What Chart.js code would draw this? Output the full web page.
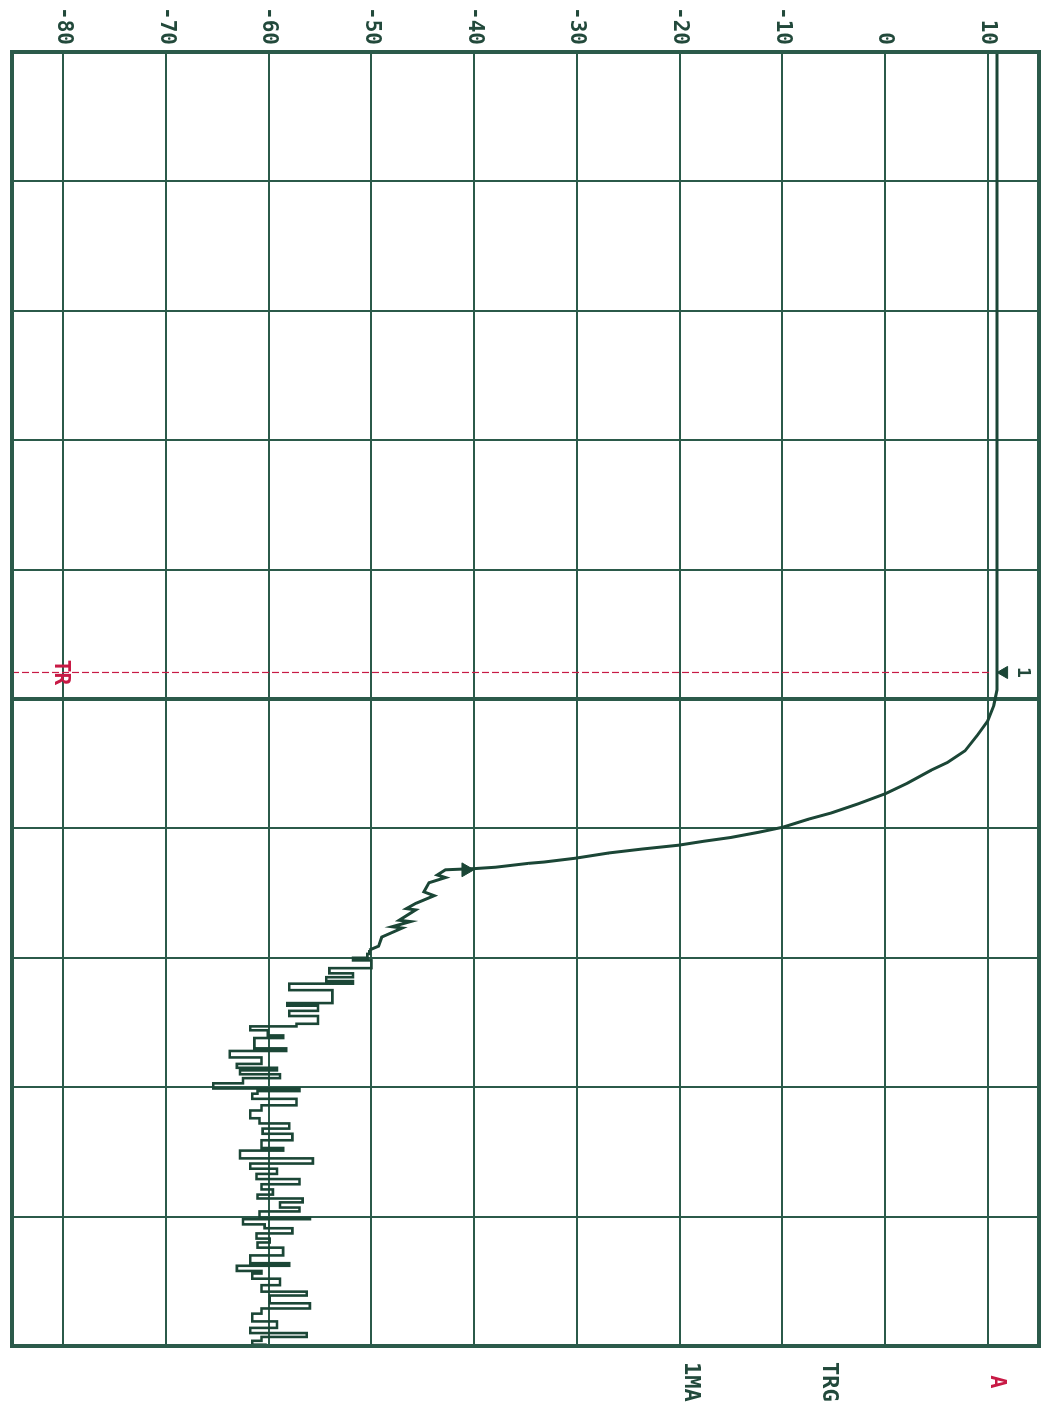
<!DOCTYPE html>
<html>
<head>
<meta charset="utf-8">
<script src="https://cdn.jsdelivr.net/npm/chart.js@4.4.1/dist/chart.umd.min.js"></script>
<style>
  html, body { margin: 0; padding: 0; background: #ffffff; }
  body { width: 1048px; height: 1416px; overflow: hidden; position: relative; }
  /* plotter sheet is drawn landscape, then turned a quarter clockwise */
  #plot { position: absolute; left: 0; top: 0; transform-origin: 0 0; transform: translateX(1048px) rotate(90deg); }
</style>
</head>
<body>
<canvas id="plot" width="1416" height="1048"></canvas>
<script>
// time in screen divisions (0..10), level in dB
const curveTime  = [0, 4.93, 5.05, 5.17, 5.28, 5.40, 5.49, 5.55, 5.65, 5.73, 5.81, 5.88, 5.93, 5.99, 6.03, 6.07, 6.10, 6.13, 6.16, 6.19, 6.23, 6.26, 6.27, 6.30, 6.31, 6.32, 6.36, 6.38, 6.42, 6.49, 6.52, 6.58, 6.62, 6.63, 6.71, 6.72, 6.76, 6.77, 6.84, 6.91, 6.94];
const curveLevel = [10.9, 10.9, 10.6, 10.0, 9.0, 7.8, 6.1, 4.5, 2.2, 0.1, -2.6, -5.2, -7.5, -9.9, -12.3, -15.0, -17.7, -20.1, -23.7, -26.9, -30.1, -33.2, -34.7, -37.9, -39.8, -42.8, -43.6, -42.8, -44.4, -44.9, -43.9, -45.7, -46.6, -45.7, -47.3, -46.2, -48.0, -47.0, -49.0, -49.3, -50.2];

// noise floor after the fall (stepped plotter trace)
const noiseTime  = [6.94, 6.97, 7.00, 7.02, 7.08, 7.12, 7.15, 7.18, 7.20, 7.25, 7.35, 7.37, 7.41, 7.45, 7.51, 7.53, 7.56, 7.60, 7.62, 7.70, 7.72, 7.77, 7.82, 7.85, 7.87, 7.90, 7.93, 7.97, 8.01, 8.03, 8.05, 8.09, 8.14, 8.18, 8.24, 8.28, 8.32, 8.36, 8.41, 8.47, 8.49, 8.55, 8.59, 8.63, 8.67, 8.71, 8.75, 8.79, 8.83, 8.86, 8.89, 8.93, 8.96, 9.01, 9.02, 9.06, 9.09, 9.13, 9.17, 9.20, 9.24, 9.30, 9.36, 9.38, 9.42, 9.44, 9.48, 9.53, 9.58, 9.61, 9.67, 9.71, 9.75, 9.81, 9.86, 9.90, 9.93, 9.96, 9.99];
const noiseLevel = [-50.2, -50.4, -51.8, -50.0, -54.1, -51.8, -54.4, -51.8, -58.0, -53.8, -58.2, -55.2, -58.0, -55.2, -57.3, -61.8, -60.1, -58.6, -61.4, -58.3, -63.8, -60.7, -63.1, -59.2, -62.8, -58.9, -62.5, -65.4, -57.0, -61.1, -61.6, -57.3, -60.7, -61.8, -60.9, -58.0, -60.6, -57.7, -60.7, -58.6, -62.8, -55.7, -61.8, -59.2, -61.2, -57.0, -60.7, -59.6, -61.1, -56.7, -58.9, -57.0, -60.9, -56.0, -62.5, -60.4, -57.7, -61.2, -59.9, -61.1, -58.6, -61.8, -58.0, -63.1, -60.7, -61.6, -58.9, -60.7, -56.3, -59.9, -56.0, -60.7, -61.6, -59.2, -61.8, -56.3, -60.7, -61.6, -60.2];

// level axis ticks and side annotations
const levelTicks = [-80, -70, -60, -50, -40, -30, -20, -10, 0, 10];
const sideLabels = ['1MA', 'TRG', 'A'];
const sideLevels = [-18.9, -5.5, 10.9];

// markers: trigger point and marker 1 on the trace
const trigTime = 4.795;
const trigMarkLevel = 11.6;
const markerTime = [6.32];
const markerLevel = [-40.8];

const GRID = '#2b5a4a';
const TRACE = '#1b4636';
const INK = '#22493b';
const RED = '#c81a45';
const FONT = 'DejaVu Sans Mono';

const toPts = (xs, ys) => xs.map((x, i) => ({ x: x, y: ys[i] }));

const plotterDecor = {
  id: 'plotterDecor',
  beforeDatasetsDraw(chart) {
    const { ctx, scales: { x, y } } = chart;
    const px = x.getPixelForValue(trigTime);
    ctx.save();
    ctx.strokeStyle = RED;
    ctx.lineWidth = 1.2;
    ctx.setLineDash([7, 3]);
    ctx.beginPath();
    ctx.moveTo(px, y.getPixelForValue(-85));
    ctx.lineTo(px, y.getPixelForValue(10.2));
    ctx.stroke();
    ctx.restore();
  },
  afterDraw(chart) {
    const { ctx, chartArea: a, scales: { x, y } } = chart;
    const px = x.getPixelForValue(trigTime);
    ctx.save();
    ctx.strokeStyle = GRID;
    ctx.lineWidth = 4;
    ctx.strokeRect(a.left, a.top, a.right - a.left, a.bottom - a.top);
    ctx.textAlign = 'center';
    ctx.textBaseline = 'middle';
    ctx.font = 'bold 21px "' + FONT + '"';
    ctx.fillStyle = RED;
    ctx.fillText('TR', px, y.getPixelForValue(-80.3));
    ctx.fillStyle = INK;
    ctx.font = 'bold 18px "' + FONT + '"';
    ctx.fillText('1', px, y.getPixelForValue(13.4));
    ctx.restore();
  }
};

// keep the plot frame exactly where the layout padding puts it
const noOverhang = (s) => { s.paddingTop = 0; s.paddingBottom = 0; s.paddingLeft = 0; s.paddingRight = 0; };

new Chart(document.getElementById('plot'), {
  type: 'line',
  data: {
    datasets: [
      {
        data: toPts(curveTime, curveLevel),
        borderColor: TRACE, borderWidth: 3, pointRadius: 0, tension: 0
      },
      {
        data: toPts(noiseTime, noiseLevel),
        borderColor: TRACE, borderWidth: 2.6, pointRadius: 0, stepped: 'before'
      },
      {
        data: toPts(markerTime, markerLevel),
        showLine: false, pointStyle: 'triangle', pointRadius: 8,
        pointBackgroundColor: TRACE, pointBorderColor: TRACE, pointBorderWidth: 1
      },
      {
        data: [{ x: trigTime, y: trigMarkLevel }],
        showLine: false, pointStyle: 'triangle', pointRotation: 180, pointRadius: 7,
        pointBackgroundColor: TRACE, pointBorderColor: TRACE, pointBorderWidth: 1
      }
    ]
  },
  options: {
    responsive: false,
    animation: false,
    devicePixelRatio: 1,
    layout: { padding: { top: 6, bottom: 12, left: 0, right: 0 } },
    plugins: { legend: { display: false }, tooltip: { enabled: false } },
    scales: {
      x: {
        type: 'linear', position: 'bottom', min: 0, max: 10,
        ticks: { stepSize: 1, display: false },
        grid: {
          color: GRID, drawTicks: false,
          lineWidth: (c) => (c.tick && c.tick.value === 5 ? 4 : 2)
        },
        border: { display: false },
        afterFit: (s) => { s.height = 0; noOverhang(s); }
      },
      y: {
        type: 'linear', position: 'left', min: -85, max: 15,
        afterBuildTicks: (s) => { s.ticks = levelTicks.map((v) => ({ value: v })); },
        ticks: {
          color: INK, padding: 7,
          font: { family: FONT, size: 21, weight: 'bold' },
          callback: (v) => String(v)
        },
        grid: { color: GRID, lineWidth: 2, drawTicks: false },
        border: { display: false },
        afterFit: (s) => { s.width = 52; noOverhang(s); }
      },
      side: {
        axis: 'y', type: 'linear', position: 'right', min: -85, max: 15,
        afterBuildTicks: (s) => { s.ticks = sideLevels.map((v) => ({ value: v })); },
        ticks: {
          padding: 16, crossAlign: 'center',
          font: { family: FONT, size: 22, weight: 'bold' },
          color: (c) => (c.index === 2 ? RED : INK),
          callback: (v, i) => sideLabels[i]
        },
        grid: { display: false, drawTicks: false },
        border: { display: false },
        afterFit: (s) => { s.width = 70; noOverhang(s); }
      }
    }
  },
  plugins: [plotterDecor]
});
</script>
</body>
</html>
